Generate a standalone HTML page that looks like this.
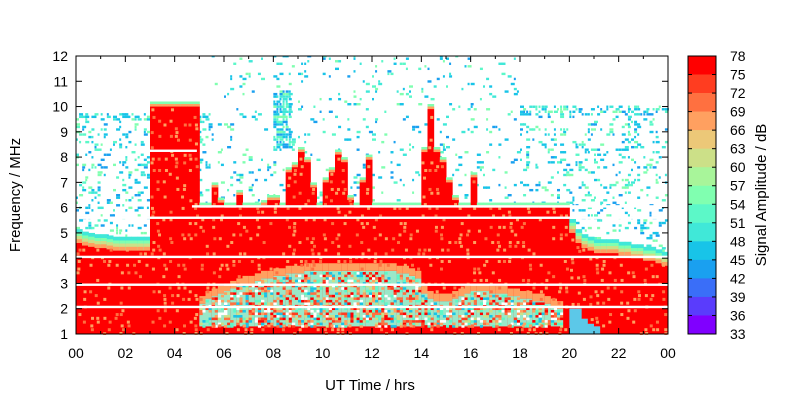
<!DOCTYPE html>
<html><head><meta charset="utf-8">
<style>
html,body{margin:0;padding:0;background:#fff;}
svg{display:block;font-family:"Liberation Sans",sans-serif;}
</style></head>
<body>
<svg id="chart" width="800" height="400" viewBox="0 0 800 400">
  <rect x="0" y="0" width="800" height="400" fill="#fff"/>
  <text x="370" y="33" font-size="14" text-anchor="middle">2025-06-04</text>
  <g id="plot"></g>
  <g id="axes"></g>
  <g id="cbar"></g>
  <text x="370" y="390" font-size="15" text-anchor="middle">UT Time / hrs</text>
  <text transform="translate(20,195) rotate(-90)" font-size="15" text-anchor="middle">Frequency / MHz</text>
  <text transform="translate(766,195) rotate(-90)" font-size="15" text-anchor="middle">Signal Amplitude / dB</text>
</svg>
<script>
// ---- data ----
const timeStep = 0.25; // hours per column
const redTop = [4.6,4.5,4.45,4.4,4.4,4.35,4.3,4.3,4.3,4.3,4.3,4.3,
 10,10,10,10,10,10,10,10,
 6.0,6.0,6.8,6.2, 6.0,6.0,6.5,6.0, 6.0,6.0,6.1,6.3, 6.3,6.0,7.4,7.6,
 8.2,7.8,6.8,6.0, 7.0,7.4,8.1,7.8, 6.3,6.0,7.0,7.9,
 6,6,6,6,6,6,6,6,
 8.2,9.9,8.2,7.8, 7.0,6.3,6.0,6.0, 7.2,6.0,6,6,6,6,6,6,
 6,6,6,6,6,6,6,6,
 5.0,4.6,4.4,4.3, 4.2,4.2,4.2,4.2,4.1,4.1,4.0,4.0,3.9,3.9,3.8,3.7];
const redBot = [1,1,1,1,1,1,1,1,1,1,1,1,1,1,1,1,1,1,1,1,
 1,1,1,1,1,1,1,1,1,1,1,1,1,1,1,1,1,1,1,1,1,1,1,1,1,1,1,1,
 1,1,1,1,1,1,1,1,1,1,1,1,1,1,1,1,1,1,1,1,1,1,1,1,1,1,1,1,1,1,1,1,
 2.0,2.0,1.6,1.4,1.3,1,1,1,1,1,1,1,1,1,1,1];
const mixTop = [0,0,0,0,0,0,0,0,0,0,0,0,0,0,0,0,0,0,0,0,
 2.2,2.4,2.5,2.6, 2.7,2.8,2.9,3.0, 3.0,3.1,3.2,3.2, 3.3,3.3,3.4,3.4,
 3.4,3.5,3.5,3.5, 3.5,3.5,3.5,3.5, 3.5,3.5,3.5,3.5, 3.5,3.5,3.5,3.5,
 3.4,3.4,3.3,3.2, 2.6,2.4,2.3,2.3, 2.3,2.4,2.5,2.6, 2.7,2.7,2.7,2.6,
 2.6,2.6,2.5,2.5, 2.4,2.4,2.3,2.3, 2.2,2.1,2.0,0,
 0,0,0,0,0,0,0,0,0,0,0,0,0,0,0,0];
const noiseTop = [
 9.7,9.7,9.7,9.7,9.7,9.7,9.7,9.7,
 9.7,9.7,9.7,9.7,9.7,9.7,9.7,9.7,
 9.7,9.7,9.7,9.7,9.7,9.7,12,12,
 12,12,12,12,12,12,12,12,
 12,12,12,12,12,12,12,12,
 12,12,12,12,12,12,12,12,
 12,12,12,12,12,12,12,12,
 12,12,12,12,12,12,12,12,
 12,12,12,12,12,12,12,12,
 10,10,10,10,10,10,10,10,
 10,10,10,10,10,10,10,10,
 10,10,10,10,10,10,10,10];
const gapLines = [8.25, 6.05, 5.6, 4.05, 2.95, 2.07];
const cbarTicks = [78,75,72,69,66,63,60,57,54,51,48,45,42,39,36,33];
const cbarColors = ["#ff0000","#ff3d20","#ff7040","#ffa060","#ecc878","#cce088","#a8f59a","#80ffb0","#5cf8c8","#40e8d8","#18c4e8","#1aa0f0","#3a6ef8","#5a3cfc","#8000ff"];
const xTickLabels = ["00","02","04","06","08","10","12","14","16","18","20","22","00"];
const yTickLabels = [1,2,3,4,5,6,7,8,9,10,11,12];

// ---- axes functions ----
const PX0=76, PX1=668, PY0=334, PY1=56;
const X = t => PX0 + t*(PX1-PX0)/24;
const Y = f => PY0 - (f-1)*(PY0-PY1)/11;
const NS="http://www.w3.org/2000/svg";
function mk(tag, attrs, parent){const e=document.createElementNS(NS,tag);for(const k in attrs)e.setAttribute(k,attrs[k]);parent.appendChild(e);return e;}
function hash(a,b){const s=Math.sin(a*12.9898+b*78.233)*43758.5453;return s-Math.floor(s);}

const plot=document.getElementById('plot');
const dotColors=["#18c4e8","#1aa0f0","#40e8d8","#5cf8c8","#80ffb0","#18c4e8"];
const cw = X(timeStep)-X(0);

// noise speckle texture above red region
for(let i=0;i<redTop.length;i++){
  const t=i*timeStep;
  for(let f=1.0; f<noiseTop[i]; f+=0.1){
    if(f<redTop[i]+0.1) continue;
    let d = t<5.5 ? 0.2 : (t<18 ? 0.07 : 0.16);
    if(t>=7.8 && t<8.7 && f>8.3 && f<10.6) d=0.75;
    if(t<5.5 && f>9.4) d=0.45;
    if(t>=18 && f>9.6) d=0.5;
    for(let s=0;s<2;s++){
      const h=hash(i*2+s, f*10);
      if(h<d){
        const c=dotColors[Math.floor(hash(f*10,i+s)*dotColors.length)];
        const w=2+Math.floor(hash(i+s*7,f*3)*3);
        const dot=mk('rect',{x:X(t)+s*cw/2,y:Y(f)-1,width:w,height:2.4,fill:c},plot);
        
        
      }
    }
  }
}

// red regions, fringe, mixed band
const mixColors=["#ff0000","#ff7040","#ffa060","#cce088","#5cf8c8","#18c4e8","#ffffff","#ff3d20"];
for(let i=0;i<redTop.length;i++){
  const t=i*timeStep, x=X(t), top=redTop[i];
  const broad = top<5.2 || (t<0.5);
  const fr = broad ? [["#40e8d8",0.55],["#80ffb0",0.4],["#cce088",0.28],["#ffa060",0.15]] : [["#80ffb0",0.2],["#ffa060",0.1]];
  fr.forEach(([c,h])=>{
    const r=mk('rect',{x:x,y:Y(top+h),width:cw+0.5,height:Y(top)-Y(top+h),fill:c},plot);
    
    
  });
  const col=mk('rect',{x:x,y:Y(top),width:cw+0.5,height:Y(redBot[i])-Y(top),fill:"#ff0000"},plot);
  
  
  if(redBot[i]>1){
    const b=mk('rect',{x:x,y:Y(redBot[i]),width:cw+0.5,height:Y(1)-Y(redBot[i]),fill:"#5cc8e8"},plot);
    
    
  }
  if(mixTop[i]>0){
    const m=mk('rect',{x:x,y:Y(mixTop[i]),width:cw+0.5,height:Y(1.3)-Y(mixTop[i]),fill:"#9ae8c8"},plot);
    
    
    const m2=mk('rect',{x:x,y:Y(mixTop[i]+0.3),width:cw+0.5,height:Y(mixTop[i])-Y(mixTop[i]+0.3),fill:"#ffa060"},plot);
    
    
    for(let f=1.3; f<mixTop[i]; f+=0.1){
      for(let s=0;s<2;s++){
        const h=hash(i*3+s+11,f*13);
        if(h<0.55){
          const c=mixColors[Math.floor(hash(f*17,i*5+s)*mixColors.length)];
          const sp=mk('rect',{x:x+s*cw/2,y:Y(f)-1.3,width:cw/2+0.3,height:2.6,fill:c},plot);
          
          
        }
      }
    }
  }
  // texture inside red
  for(let f=redBot[i]; f<top; f+=0.15){
    if(mixTop[i]>0 && f<mixTop[i] && f>1.3) continue;
    const h=hash(i+3,f*7);
    if(h<0.25){
      const c = h<0.1?"#ff7040":"#ffa060";
      const s=mk('rect',{x:x+hash(f,i)*3,y:Y(f)-2,width:3,height:3,fill:c},plot);
      
      
    }
  }
}
// white gap lines
gapLines.forEach((f,k)=>{
  const x0 = k===0 ? X(3) : (k===1 ? X(4.7) : PX0);
  const x1 = k===0 ? X(4.9) : PX1;
  const l=mk('rect',{x:x0,y:Y(f)-1.2,width:x1-x0,height:2.4,fill:"#fff"},plot);
  
  
});
mk('rect',{x:PX0,y:0,width:PX1-PX0,height:PY1,fill:"#fff"},plot);

// ---- axes ----
const ax=document.getElementById('axes');
const frame=mk('rect',{x:PX0,y:PY1,width:PX1-PX0,height:PY0-PY1,fill:"none",stroke:"#000","stroke-width":1},ax);


yTickLabels.forEach(v=>{
  const y=Y(v);
  mk('line',{x1:PX0,x2:PX0+6,y1:y,y2:y,stroke:"#000"},ax);
  mk('line',{x1:PX1,x2:PX1-6,y1:y,y2:y,stroke:"#000"},ax);
  const tx=mk('text',{x:PX0-8,y:y+5,"font-size":14,"text-anchor":"end"},ax);
  tx.textContent=v;
  
  
});
for(let h=0;h<=24;h++){
  const x=X(h), len = h%2===0?6:3;
  mk('line',{x1:x,x2:x,y1:PY0,y2:PY0-len,stroke:"#000"},ax);
  mk('line',{x1:x,x2:x,y1:PY1,y2:PY1+len,stroke:"#000"},ax);
}
xTickLabels.forEach((lab,k)=>{
  const tx=mk('text',{x:X(k*2),y:PY0+24,"font-size":14,"text-anchor":"middle"},ax);
  tx.textContent=lab;
  
  
});

// ---- colorbar ----
const cb=document.getElementById('cbar');
const CX=688, CW=28, CY0=56, CY1=334, bandH=(CY1-CY0)/cbarColors.length;
cbarColors.forEach((c,k)=>{
  const r=mk('rect',{x:CX,y:CY0+k*bandH,width:CW,height:bandH+0.3,fill:c},cb);
  
  
});
mk('rect',{x:CX,y:CY0,width:CW,height:CY1-CY0,fill:"none",stroke:"#000"},cb);
cbarTicks.forEach((v,k)=>{
  const y=CY0+k*bandH;
  mk('line',{x1:CX,x2:CX+4,y1:y,y2:y,stroke:"#000"},cb);
  mk('line',{x1:CX+CW,x2:CX+CW-4,y1:y,y2:y,stroke:"#000"},cb);
  const tx=mk('text',{x:CX+CW+14,y:y+5,"font-size":14},cb);
  tx.textContent=v;
  
  
});
</script>
</body></html>
